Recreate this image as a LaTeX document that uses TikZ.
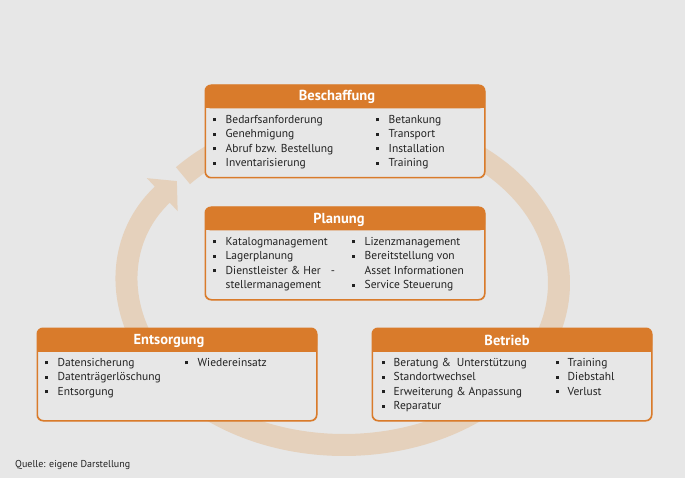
\documentclass[tikz,border=0pt]{standalone}
\usepackage{fontspec}
\setmainfont{PT Sans}
\usetikzlibrary{arrows.meta}
\definecolor{bggray}{HTML}{E7E7E7}
\definecolor{headorange}{HTML}{D97B2B}
\definecolor{ringtan}{HTML}{E5D1BC}
\definecolor{txtdark}{HTML}{222222}
\newcommand\sqbullet{\raisebox{2pt}{\rule{3pt}{3pt}}}

\begin{document}
\begin{tikzpicture}[x=1pt,y=1pt,
  panel/.style={draw=headorange,line width=1pt,rounded corners=6pt,
    minimum width=279pt,minimum height=92pt,anchor=north west,inner sep=0pt},
  headtxt/.style={text=white,font=\bfseries\fontsize{14.5}{17}\selectfont,inner sep=0pt},
  itemlist/.style={anchor=north west,inner sep=0pt,text=txtdark,
    font=\fontsize{11.5}{14.5}\selectfont},
  ring/.style={draw=ringtan,line width=22pt,
    -{Triangle[length=20pt,width=44pt]}}
]
  % background and margins
  \fill[bggray] (0,0) rectangle (685,-478);
  \useasboundingbox (0,0) rectangle (685,-478);

  % circular arrow behind the boxes
  \draw[ring] (344,-283) ++(138.5:215pt and 162pt)
    arc[start angle=138.5,end angle=-219,x radius=215pt,y radius=162pt];

  % boxes
  \node[panel,fill=bggray] (beschaffung) at (205,-85) {};
  \node[panel,fill=bggray] (planung) at (205,-207) {};
  \node[panel,fill=bggray] (entsorgung) at (37,-328) {};
  \node[panel,fill=bggray] (betrieb) at (372,-328) {};

  % header bars
  \foreach \bx in {beschaffung,planung,entsorgung,betrieb}{
    \fill[headorange,rounded corners=6pt] (\bx.north west) rectangle ([yshift=-23.5pt]\bx.north east);
    \fill[headorange] ([yshift=-12pt]\bx.north west) rectangle ([yshift=-23.5pt]\bx.north east);
    \draw[headorange,line width=1pt,rounded corners=6pt] (\bx.north west) rectangle (\bx.south east);
  }

  \node[headtxt] (beschaffungtitle) at (337,-97) {Beschaffung};
  \node[headtxt] (planungtitle) at (339,-219.5) {Planung};
  \node[headtxt] (entsorgungtitle) at (169,-340.5) {Entsorgung};
  \node[headtxt] (betriebtitle) at (507,-340.5) {Betrieb};

  % lists
  \node[itemlist] (beschaffunga) at (213,-113) {\begin{tabular}{@{}p{12.5pt}@{}l@{}}
    \sqbullet & Bedarfsanforderung\\
    \sqbullet & Genehmigung\\
    \sqbullet & Abruf bzw. Bestellung\\
    \sqbullet & Inventarisierung
  \end{tabular}};
  \node[itemlist] (beschaffungb) at (376,-113) {\begin{tabular}{@{}p{12.5pt}@{}l@{}}
    \sqbullet & Betankung\\
    \sqbullet & Transport\\
    \sqbullet & Installation\\
    \sqbullet & Training
  \end{tabular}};
  \node[itemlist] (planunga) at (213,-235) {\begin{tabular}{@{}p{12.5pt}@{}l@{}}
    \sqbullet & Katalogmanagement\\
    \sqbullet & Lagerplanung\\
    \sqbullet & Dienstleister \& Her\hspace{10pt}-\\
              & stellermanagement
  \end{tabular}};
  \node[itemlist] (planungb) at (352,-235) {\begin{tabular}{@{}p{12.5pt}@{}l@{}}
    \sqbullet & Lizenzmanagement\\
    \sqbullet & Bereitstellung von\\
              & Asset Informationen\\
    \sqbullet & Service Steuerung
  \end{tabular}};
  \node[itemlist] (entsorgunga) at (45,-356) {\begin{tabular}{@{}p{12.5pt}@{}l@{}}
    \sqbullet & Datensicherung\\
    \sqbullet & Datenträgerlöschung\\
    \sqbullet & Entsorgung
  \end{tabular}};
  \node[itemlist] (entsorgungb) at (185,-356) {\begin{tabular}{@{}p{12.5pt}@{}l@{}}
    \sqbullet & Wiedereinsatz
  \end{tabular}};
  \node[itemlist] (betrieba) at (382,-356) {\begin{tabular}{@{}p{11.5pt}@{}l@{}}
    \sqbullet & Beratung \&\hspace{6pt}Unterstützung\\
    \sqbullet & Standortwechsel\\
    \sqbullet & Erweiterung \& Anpassung\\
    \sqbullet & Reparatur
  \end{tabular}};
  \node[itemlist] (betriebb) at (556,-356) {\begin{tabular}{@{}p{11.5pt}@{}l@{}}
    \sqbullet & Training\\
    \sqbullet & Diebstahl\\
    \sqbullet & Verlust
  \end{tabular}};

  % source line
  \node[anchor=base west,inner sep=0pt,text=txtdark,font=\fontsize{10}{12}\selectfont]
    (quelle) at (15,-467) {Quelle: eigene Darstellung};
\end{tikzpicture}
\end{document}
